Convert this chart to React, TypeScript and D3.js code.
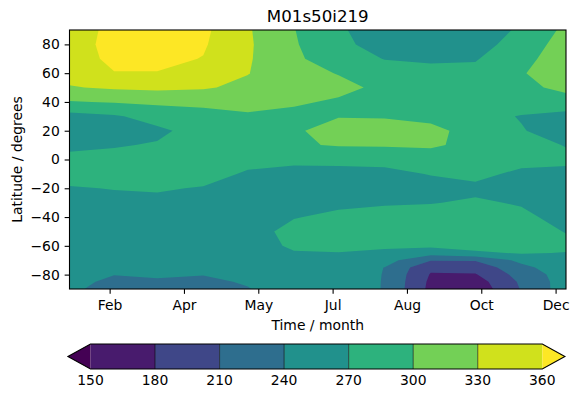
import React, { useRef, useEffect } from 'react';
import * as d3 from 'd3';

// mid-month time stamps (day of year)
const monthDays = [15, 45, 74, 105, 135, 166, 196, 227, 258, 288, 319, 349];
// grid rows, north to south
const latitudes = [90, 80, 70, 60, 50, 40, 30, 20, 10, 0, -10, -20, -30, -40, -50, -60, -65, -70, -75, -80, -85, -90];

// one column per month, values read north -> south
const jan = [345, 346, 345, 340, 328, 298, 260, 256, 265, 276, 280, 268, 260, 257, 256, 254, 253, 252, 250, 249, 247, 245];
const feb = [368, 370, 367, 359, 334, 302, 267, 262, 268, 278, 281, 271, 262, 258, 256, 253, 252, 250, 246, 240.5, 235, 230];
const mar = [374, 373, 367, 359, 336, 306, 280, 265, 272, 282, 283, 273, 263, 258, 256, 252, 251, 249, 247, 243, 237, 232];
const apr = [366, 363, 359, 348, 333, 308, 288, 280, 281, 285, 282, 268, 262, 258, 255, 252, 251, 249, 246, 240.5, 236, 232];
const may = [333, 334, 333, 331, 323, 310, 296, 285, 283, 280, 266, 260, 258, 259, 262, 258, 257, 255, 251, 246, 242, 239];
const jun = [301, 303, 305, 308, 312, 303, 294, 297, 297, 275, 263, 260, 262, 269, 276, 274, 268, 262, 256, 252, 250, 252];
const jul = [273, 276, 285, 299, 306, 297, 299, 309, 302, 274, 265, 262, 266, 274, 280, 277, 269, 264, 258, 254, 251, 250];
const aug = [258, 260, 269, 283, 295, 292, 298, 311, 303, 277, 264, 263, 268, 277, 280, 276, 262, 252, 239.5, 239, 239, 239];
const sep = [255, 258, 267, 276, 285, 289, 292, 308, 305, 282, 271, 262, 269, 279, 281, 275, 252, 212, 186, 178, 174, 172];
const oct = [259, 261, 268, 277, 284, 287, 282, 289, 290, 284, 276, 265, 273, 281, 283, 278, 266, 212, 190, 178, 166, 160];
const nov = [273, 280, 290, 298, 295, 288, 268, 272, 278, 278, 265, 263, 268, 275, 281, 277, 272, 248, 232, 222, 215, 212];
const dec = [307, 315, 318, 316, 305, 292, 258, 255, 269, 275, 264, 258, 257, 262, 269, 276, 269, 264, 258, 254, 254, 255];
const monthColumns = [jan, feb, mar, apr, may, jun, jul, aug, sep, oct, nov, dec];

const levels = [150, 180, 210, 240, 270, 300, 330, 360];
const timeTicks = [42, 92, 142, 192, 242, 292, 342];
const timeTickLabels = ['Feb', 'Apr', 'May', 'Jul', 'Aug', 'Oct', 'Dec'];
const latTicks = [-80, -60, -40, -20, 0, 20, 40, 60, 80];

export default function App() {
  const svgRef = useRef<SVGSVGElement>(null);

  useEffect(() => {
    if (!svgRef.current) return;
    const root = d3.select(svgRef.current);
    root.selectAll('*').remove();

    const width = 577;
    const height = 398;
    const margin = { top: 30, right: 11, bottom: 109, left: 69.5 };
    const innerWidth = width - margin.left - margin.right;
    const innerHeight = height - margin.top - margin.bottom;
    const font = '"DejaVu Sans", sans-serif';
    const tickLen = 4.86;

    root.attr('width', width).attr('height', height);

    const x = d3.scaleLinear()
      .domain([monthDays[0], monthDays[monthDays.length - 1]])
      .range([0, innerWidth]);
    const y = d3.scaleLinear().domain([-90, 90]).range([innerHeight, 0]);

    const lo = levels[0];
    const hi = levels[levels.length - 1];
    const bandColor = (k: number) => {
      if (k < 0) return d3.interpolateViridis(0);
      if (k >= levels.length - 1) return d3.interpolateViridis(1);
      return d3.interpolateViridis(((levels[k] + levels[k + 1]) / 2 - lo) / (hi - lo));
    };

    // grid for marching squares
    const n = monthDays.length;
    const m = latitudes.length;
    const grid: number[] = new Array(n * m);
    for (let j = 0; j < m; j++) {
      for (let i = 0; i < n; i++) grid[j * n + i] = monthColumns[i][j];
    }
    const colToDay = d3.scaleLinear().domain(d3.range(n)).range(monthDays);
    const rowToLat = d3.scaleLinear().domain(d3.range(m)).range(latitudes);
    const projection = d3.geoTransform({
      point(px: number, py: number) {
        (this as any).stream.point(x(colToDay(px - 0.5)), y(rowToLat(py - 0.5)));
      }
    });
    const path = d3.geoPath(projection);
    const contours = d3.contours().size([n, m]).thresholds(levels)(grid);

    const defs = root.append('defs');
    defs.append('clipPath').attr('id', 'plot-clip')
      .append('rect')
      .attr('width', innerWidth)
      .attr('height', innerHeight);

    const svg = root.append('g')
      .attr('transform', `translate(${margin.left},${margin.top})`);

    const field = svg.append('g').attr('clip-path', 'url(#plot-clip)');
    field.append('rect')
      .attr('width', innerWidth)
      .attr('height', innerHeight)
      .attr('fill', bandColor(-1));
    field.selectAll('path')
      .data(contours)
      .enter()
      .append('path')
      .attr('d', d => path(d as any))
      .attr('fill', d => bandColor(levels.indexOf(d.value)));

    // X axis
    svg.append('g')
      .attr('transform', `translate(0,${innerHeight})`)
      .call(d3.axisBottom(x)
        .tickValues(timeTicks)
        .tickFormat((_, i) => timeTickLabels[i])
        .tickSize(tickLen)
        .tickPadding(6))
      .call(g => g.select('.domain').remove())
      .call(g => g.selectAll('.tick line').attr('stroke', '#000').attr('stroke-width', 1.1))
      .call(g => g.selectAll('text')
        .style('font-family', font)
        .style('font-size', '13.9px')
        .style('fill', '#000'));

    // Y axis
    svg.append('g')
      .call(d3.axisLeft(y)
        .tickValues(latTicks)
        .tickFormat(d => (+d < 0 ? '\u2212' + Math.abs(+d) : String(d)))
        .tickSize(tickLen)
        .tickPadding(4.86))
      .call(g => g.select('.domain').remove())
      .call(g => g.selectAll('.tick line').attr('stroke', '#000').attr('stroke-width', 1.1))
      .call(g => g.selectAll('text')
        .style('font-family', font)
        .style('font-size', '13.9px')
        .style('fill', '#000'));

    // frame
    svg.append('rect')
      .attr('width', innerWidth)
      .attr('height', innerHeight)
      .attr('fill', 'none')
      .attr('stroke', '#000')
      .attr('stroke-width', 1.1);

    // title and axis labels
    svg.append('text')
      .attr('x', innerWidth / 2)
      .attr('y', -8)
      .attr('text-anchor', 'middle')
      .style('font-family', font)
      .style('font-size', '16.67px')
      .text('M01s50i219');

    svg.append('text')
      .attr('x', innerWidth / 2)
      .attr('y', innerHeight + 41)
      .attr('text-anchor', 'middle')
      .style('font-family', font)
      .style('font-size', '13.9px')
      .text('Time / month');

    root.append('text')
      .attr('transform', `translate(22,${margin.top + innerHeight / 2}) rotate(-90)`)
      .attr('text-anchor', 'middle')
      .style('font-family', font)
      .style('font-size', '13.9px')
      .text('Latitude / degrees');

    // colour bar
    const cbTop = 344;
    const cbHeight = 25;
    const cb = d3.scaleLinear().domain([lo, hi]).range([90.5, 542.3]);
    const ext = 0.05 * (cb(hi) - cb(lo));
    const bar = root.append('g');
    const bands = d3.range(levels.length - 1);
    bar.selectAll('.cb-band')
      .data(bands)
      .enter()
      .append('rect')
      .attr('class', 'cb-band')
      .attr('x', k => cb(levels[k]))
      .attr('y', cbTop)
      .attr('width', k => cb(levels[k + 1]) - cb(levels[k]))
      .attr('height', cbHeight)
      .attr('fill', k => bandColor(k));
    bar.append('path')
      .attr('d', `M${cb(lo)},${cbTop}L${cb(lo) - ext},${cbTop + cbHeight / 2}L${cb(lo)},${cbTop + cbHeight}Z`)
      .attr('fill', bandColor(-1));
    bar.append('path')
      .attr('d', `M${cb(hi)},${cbTop}L${cb(hi) + ext},${cbTop + cbHeight / 2}L${cb(hi)},${cbTop + cbHeight}Z`)
      .attr('fill', bandColor(levels.length));
    bar.selectAll('.cb-edge')
      .data(levels.slice(1, -1))
      .enter()
      .append('line')
      .attr('class', 'cb-edge')
      .attr('x1', d => cb(d))
      .attr('x2', d => cb(d))
      .attr('y1', cbTop)
      .attr('y2', cbTop + cbHeight)
      .attr('stroke', '#000')
      .attr('stroke-width', 0.6);
    bar.append('path')
      .attr('d', `M${cb(lo) - ext},${cbTop + cbHeight / 2}L${cb(lo)},${cbTop}L${cb(hi)},${cbTop}` +
        `L${cb(hi) + ext},${cbTop + cbHeight / 2}L${cb(hi)},${cbTop + cbHeight}L${cb(lo)},${cbTop + cbHeight}Z`)
      .attr('fill', 'none')
      .attr('stroke', '#000')
      .attr('stroke-width', 1.1);
    bar.selectAll('.cb-label')
      .data(levels)
      .enter()
      .append('text')
      .attr('class', 'cb-label')
      .attr('x', d => cb(d))
      .attr('y', 385)
      .attr('text-anchor', 'middle')
      .style('font-family', font)
      .style('font-size', '13.9px')
      .text(d => d);
  }, []);

  return (
    <div style={{ position: 'absolute', left: 0, top: 0, width: 577, height: 398, background: '#fff' }}>
      <svg ref={svgRef} style={{ display: 'block' }} />
    </div>
  );
}
